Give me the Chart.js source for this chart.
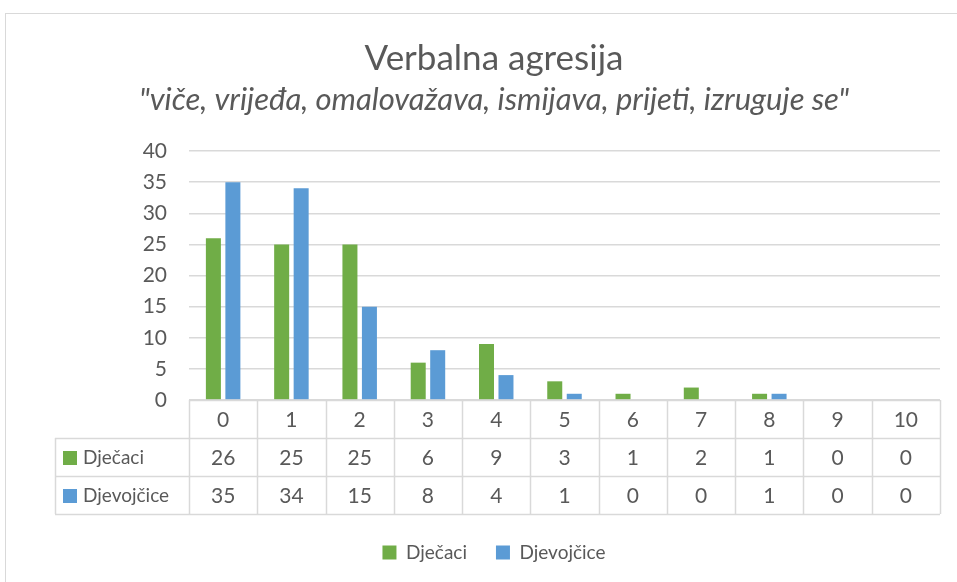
<!DOCTYPE html>
<html>
<head>
<meta charset="utf-8">
<script src="https://cdn.jsdelivr.net/npm/chart.js@4/dist/chart.umd.min.js"></script>
<style>
html,body{margin:0;padding:0;background:#fff;}
#wrap{width:957px;height:582px;}
</style>
</head>
<body>
<div id="wrap"><canvas id="c" width="957" height="582"></canvas></div>
<script>
const categories = ['0','1','2','3','4','5','6','7','8','9','10'];
const seriesNames = ['Dječaci','Djevojčice'];
const boys = [26,25,25,6,9,3,1,2,1,0,0];
const girls = [35,34,15,8,4,1,0,0,1,0,0];
const yTicks = [0,5,10,15,20,25,30,35,40];

const TEXT = '#595959';
const GRID = '#D9D9D9';
const FONT = 'Lato, "Open Sans", sans-serif';
const FS_NUM = 21;
const FS_LBL = 19;
const PAD_LEFT = 48;

const framePlugin = {
  id: 'frame',
  beforeDraw(chart){
    const ctx = chart.ctx;
    ctx.save();
    ctx.fillStyle = '#fff';
    ctx.fillRect(0,0,chart.width,chart.height);
    ctx.strokeStyle = GRID;
    ctx.lineWidth = 1;
    ctx.strokeRect(5.5,13.5,chart.width+10,chart.height+10);
    ctx.restore();
  }
};

const tablePlugin = {
  id: 'dataTable',
  afterDraw(chart){
    const ctx = chart.ctx;
    const xs = chart.scales.x;
    const n = categories.length;
    const left = chart.chartArea.left, right = chart.chartArea.right;
    const colW = (right-left)/n;
    const y0 = chart.chartArea.bottom;
    const rh = xs.height/3;
    const rows = [y0, y0+rh, y0+2*rh, y0+3*rh];
    const tableLeft = 55;
    ctx.save();
    ctx.strokeStyle = GRID;
    ctx.lineWidth = 1.5;
    ctx.beginPath();
    const a = v => Math.round(v)+0.5;
    ctx.moveTo(left, a(rows[0])); ctx.lineTo(right, a(rows[0]));
    for (let r=1;r<4;r++){ ctx.moveTo(tableLeft, a(rows[r])); ctx.lineTo(right, a(rows[r])); }
    for (let i=0;i<=n;i++){ const x = a(left+i*colW); ctx.moveTo(x, rows[0]); ctx.lineTo(x, rows[3]); }
    ctx.moveTo(a(tableLeft), rows[1]); ctx.lineTo(a(tableLeft), rows[3]);
    ctx.stroke();
    ctx.fillStyle = TEXT;
    ctx.font = FS_NUM + 'px ' + FONT;
    ctx.textAlign = 'center';
    ctx.textBaseline = 'middle';
    categories.forEach((c,i)=>{ ctx.fillText(c, xs.getPixelForTick(i), (rows[0]+rows[1])/2+1); });
    const data = chart.data.datasets;
    data.forEach((ds,r)=>{
      const cy = (rows[r+1]+rows[r+2])/2+1;
      ctx.font = FS_NUM + 'px ' + FONT;
      ctx.textAlign = 'center';
      ds.data.forEach((v,i)=>{ ctx.fillText(String(v), xs.getPixelForTick(i), cy); });
      ctx.fillStyle = ds.backgroundColor;
      ctx.fillRect(63, cy-7, 14, 14);
      ctx.fillStyle = TEXT;
      ctx.textAlign = 'left';
      ctx.font = FS_LBL + 'px ' + FONT;
      ctx.fillText(ds.label, 83, cy);
    });
    ctx.restore();
  }
};

new Chart(document.getElementById('c'), {
  type: 'bar',
  data: {
    labels: categories,
    datasets: [
      {label: seriesNames[0], data: boys, backgroundColor: '#70AD47', borderWidth: 0, categoryPercentage: 0.571, barPercentage: 0.77},
      {label: seriesNames[1], data: girls, backgroundColor: '#5B9BD5', borderWidth: 0, categoryPercentage: 0.571, barPercentage: 0.77}
    ]
  },
  options: {
    responsive: false,
    animation: false,
    layout: {padding: {left: PAD_LEFT, right: 17, top: 0, bottom: 10}},
    scales: {
      x: {
        ticks: {display: false},
        grid: {display: false},
        border: {display: false},
        afterFit(scale){ scale.height = 114; }
      },
      y: {
        min: 0, max: 40,
        afterBuildTicks(scale){ scale.ticks = yTicks.map(v=>({value:v})); },
        ticks: {color: TEXT, font: {family: FONT, size: FS_NUM}, padding: 22},
        grid: {color: GRID, lineWidth: 1.5, drawTicks: false},
        border: {display: false},
        afterFit(scale){ scale.width = 189 - PAD_LEFT; }
      }
    },
    plugins: {
      title: {
        display: true,
        text: 'Verbalna agresija',
        color: TEXT,
        font: {family: FONT, size: 35, weight: 'normal'},
        padding: {top: 38, bottom: 0}
      },
      subtitle: {
        display: true,
        text: '"viče, vrijeđa, omalovažava, ismijava, prijeti, izruguje se"',
        color: TEXT,
        font: {family: FONT, size: 31, style: 'italic', weight: 'normal'},
        padding: {top: 1, bottom: 32.8}
      },
      legend: {
        position: 'bottom',
        labels: {color: TEXT, font: {family: FONT, size: FS_LBL}, boxWidth: 14, boxHeight: 14, padding: 29}
      },
      tooltip: {enabled: false}
    }
  },
  plugins: [framePlugin, tablePlugin]
});
</script>
</body>
</html>
